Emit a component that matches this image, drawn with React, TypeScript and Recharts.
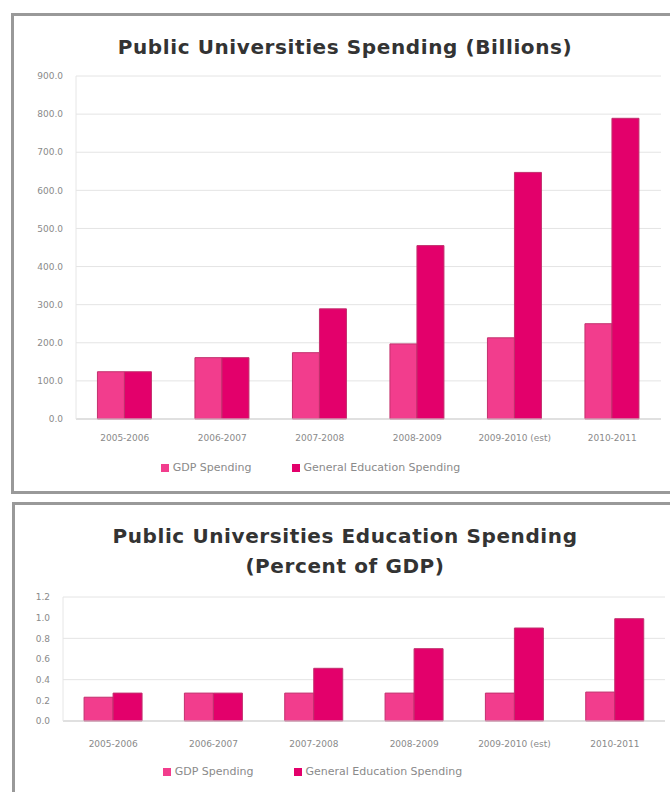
import React from 'react';
import { BarChart, Bar, CartesianGrid, XAxis, YAxis, Legend } from 'recharts';

const years = ['2005-2006', '2006-2007', '2007-2008', '2008-2009', '2009-2010 (est)', '2010-2011'];
const gdpBillions = [124, 161, 174, 197, 213, 250];
const eduBillions = [124, 161, 289, 455, 647, 789];
const billionTicks = [0, 100, 200, 300, 400, 500, 600, 700, 800, 900];

const gdpPercent = [0.23, 0.27, 0.27, 0.27, 0.27, 0.28];
const eduPercent = [0.27, 0.27, 0.51, 0.7, 0.9, 0.99];
const percentTicks = [0, 0.2, 0.4, 0.6, 0.8, 1.0, 1.2];

const seriesNames = { gdp: 'GDP Spending', edu: 'General Education Spending' };

const colors = {
  light: '#f23d8d',
  dark: '#e3006b',
  stroke: '#c2306e',
  grid: '#e4e4e4',
  text: '#8a8a8a',
  title: '#333333',
  frame: '#999999',
};

const billionData = years.map((y, i) => ({ year: y, gdp: gdpBillions[i], edu: eduBillions[i] }));
const percentData = years.map((y, i) => ({ year: y, gdp: gdpPercent[i], edu: eduPercent[i] }));

const font = '"DejaVu Sans", sans-serif';
const tick = { fill: colors.text, fontSize: 9, fontFamily: font };

const titleStyle: React.CSSProperties = {
  position: 'absolute',
  left: 0,
  width: 690,
  textAlign: 'center',
  fontFamily: font,
  fontWeight: 'bold',
  fontSize: 20,
  letterSpacing: 0.6,
  color: colors.title,
  lineHeight: '30px',
};

const legendText = (value: string) => <span style={{ color: colors.text, marginRight: 30 }}>{value}</span>;

function Bars() {
  return (
    <>
      <Bar dataKey="gdp" name={seriesNames.gdp} fill={colors.light} stroke={colors.stroke} strokeWidth={1} isAnimationActive={false} />
      <Bar dataKey="edu" name={seriesNames.edu} fill={colors.dark} stroke={colors.stroke} strokeWidth={1} isAnimationActive={false} />
    </>
  );
}

export default function App() {
  return (
    <div
      style={{
        position: 'absolute',
        left: 0,
        top: 0,
        width: 670,
        height: 792,
        overflow: 'hidden',
        background: '#fff',
      }}
    >
      <div
        style={{
          position: 'absolute',
          left: 11,
          top: 13,
          width: 700,
          height: 475,
          border: `3px solid ${colors.frame}`,
        }}
      />
      <div
        style={{
          position: 'absolute',
          left: 12,
          top: 502,
          width: 700,
          height: 400,
          border: `3px solid ${colors.frame}`,
        }}
      />

      <div style={{ ...titleStyle, top: 32 }}>Public Universities Spending (Billions)</div>
      <div style={{ ...titleStyle, top: 521 }}>
        Public Universities Education Spending
        <br />
        (Percent of GDP)
      </div>

      <div style={{ position: 'absolute', left: 0, top: 0 }}>
        <BarChart
          width={670}
          height={490}
          data={billionData}
          margin={{ top: 76, right: 9, bottom: 16, left: 0 }}
          barCategoryGap="22%"
          barGap={0}
        >
          <CartesianGrid stroke={colors.grid} vertical={false} />
          <XAxis
            dataKey="year"
            tick={tick}
            tickLine={false}
            axisLine={{ stroke: '#cfcfcf' }}
            tickMargin={10}
            height={42}
            interval={0}
          />
          <YAxis
            domain={[0, 900]}
            ticks={billionTicks}
            tickFormatter={(v: number) => v.toFixed(1)}
            tick={tick}
            tickLine={false}
            axisLine={{ stroke: '#e6e6e6' }}
            width={76}
            tickMargin={7}
          />
          <Legend
            iconType="square"
            iconSize={8}
            formatter={legendText}
            wrapperStyle={{ fontSize: 11, fontFamily: font }}
          />
          {Bars()}
        </BarChart>
      </div>

      <div style={{ position: 'absolute', left: 0, top: 500 }}>
        <BarChart
          width={670}
          height={290}
          data={percentData}
          margin={{ top: 97, right: 5, bottom: 12, left: 0 }}
          barCategoryGap="21%"
          barGap={0}
        >
          <CartesianGrid stroke={colors.grid} vertical={false} />
          <XAxis
            dataKey="year"
            tick={tick}
            tickLine={false}
            axisLine={{ stroke: '#cfcfcf' }}
            tickMargin={14}
            height={44}
            interval={0}
          />
          <YAxis
            domain={[0, 1.2]}
            ticks={percentTicks}
            tickFormatter={(v: number) => v.toFixed(1)}
            tick={tick}
            tickLine={false}
            axisLine={{ stroke: '#e6e6e6' }}
            width={63}
            tickMargin={7}
          />
          <Legend
            iconType="square"
            iconSize={8}
            formatter={legendText}
            wrapperStyle={{ fontSize: 11, fontFamily: font }}
          />
          {Bars()}
        </BarChart>
      </div>
    </div>
  );
}
